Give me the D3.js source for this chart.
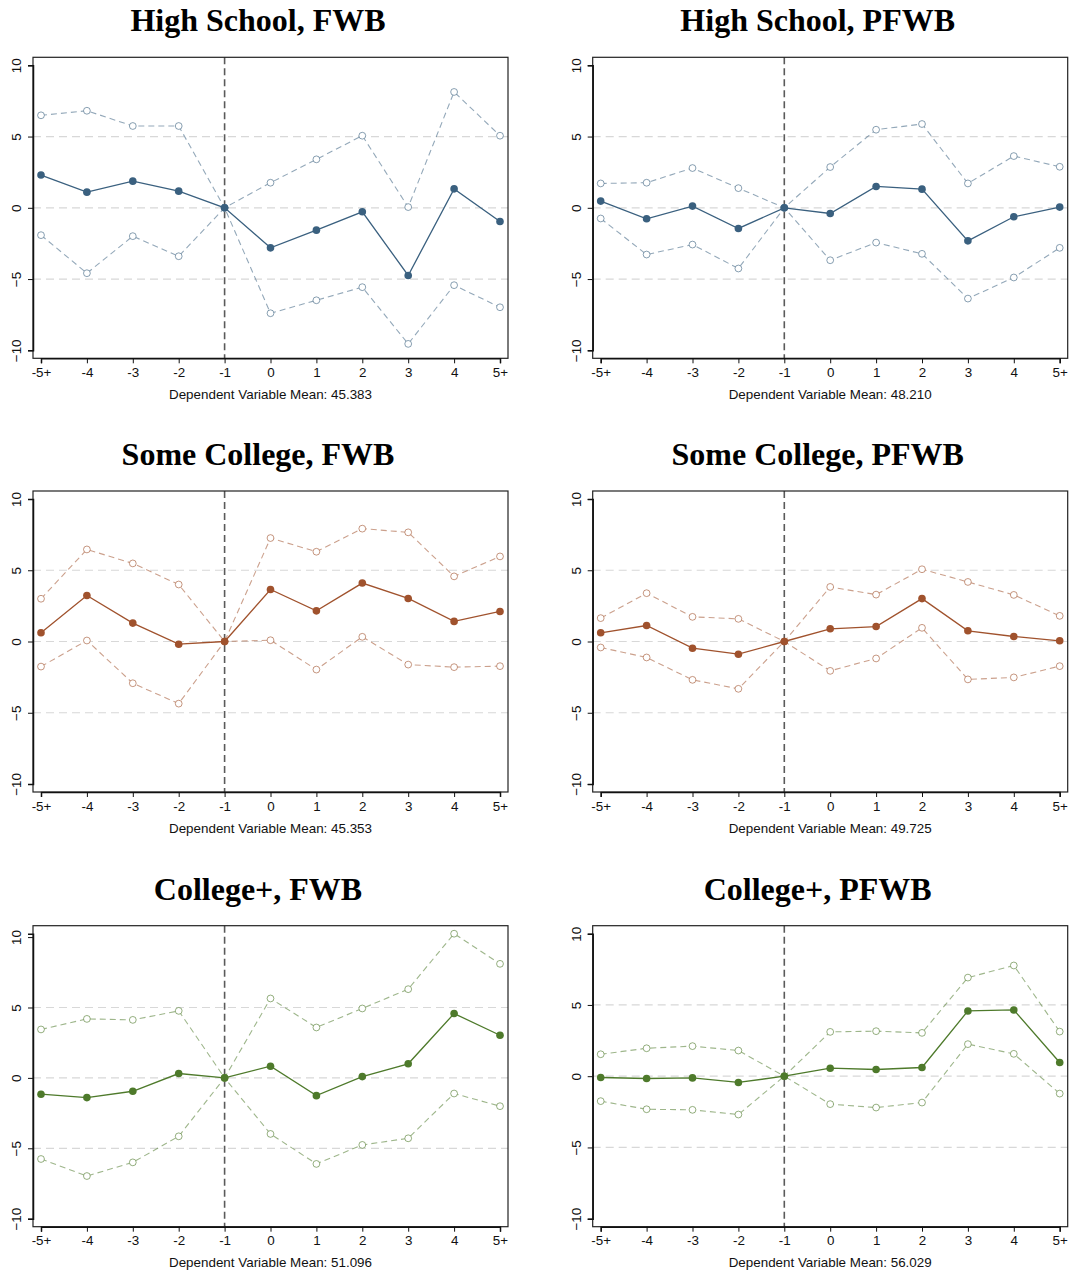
<!DOCTYPE html>
<html><head><meta charset="utf-8">
<script src="https://cdn.jsdelivr.net/npm/d3@7/dist/d3.min.js"></script>
<style>body{margin:0;background:#fff}svg{display:block}</style>
</head><body>
<script>
const xLabels = ["-5+","-4","-3","-2","-1","0","1","2","3","4","5+"];
const yTicks = [-10,-5,0,5,10];
const gridVals = [-5,0,5];
const titles = ["High School, FWB","High School, PFWB","Some College, FWB","Some College, PFWB","College+, FWB","College+, PFWB"];
const depMeans = ["45.383","48.210","45.353","49.725","51.096","56.029"];
const groupColors = ["#3a607f","#3a607f","#a0522d","#a0522d","#4e7a2b","#4e7a2b"];

const hsFwbEst = [2.30,1.10,1.87,1.17,0,-2.81,-1.57,-0.28,-4.75,1.33,-0.96];
const hsFwbHi  = [6.49,6.81,5.74,5.74,0,1.76,3.40,5.06,0.05,8.13,5.06];
const hsFwbLo  = [-1.92,-4.59,-1.99,-3.40,0,-7.40,-6.49,-5.57,-9.55,-5.43,-6.98];

const hsPfwbEst = [0.47,-0.77,0.12,-1.45,0,-0.40,1.50,1.31,-2.32,-0.63,0.05];
const hsPfwbHi  = [1.71,1.76,2.79,1.38,0,2.86,5.48,5.88,1.71,3.63,2.88];
const hsPfwbLo  = [-0.75,-3.28,-2.58,-4.26,0,-3.68,-2.44,-3.23,-6.37,-4.89,-2.81];

const scFwbEst = [0.61,3.23,1.29,-0.19,0,3.65,2.15,4.10,3.02,1.41,2.11];
const scFwbHi  = [3.00,6.46,5.48,4.00,0,7.26,6.30,7.92,7.66,4.57,5.97];
const scFwbLo  = [-1.76,0.07,-2.93,-4.36,0,0.09,-1.97,0.33,-1.62,-1.80,-1.73];

const scPfwbEst = [0.61,1.12,-0.47,-0.89,0,0.89,1.05,3.01,0.75,0.35,0.05];
const scPfwbHi  = [1.64,3.39,1.73,1.59,0,3.83,3.29,5.07,4.18,3.27,1.80];
const scPfwbLo  = [-0.42,-1.12,-2.69,-3.32,0,-2.06,-1.19,0.96,-2.66,-2.52,-1.73];

const cgFwbEst = [-1.16,-1.40,-0.95,0.31,0,0.83,-1.26,0.09,1.00,4.57,3.03];
const cgFwbHi  = [3.44,4.19,4.12,4.76,0,5.64,3.58,4.93,6.30,10.24,8.10];
const cgFwbLo  = [-5.76,-6.97,-6.00,-4.15,0,-3.98,-6.11,-4.76,-4.29,-1.11,-2.01];

const cgPfwbEst = [-0.09,-0.16,-0.12,-0.44,0,0.56,0.47,0.61,4.58,4.65,0.96];
const cgPfwbHi  = [1.54,1.96,2.11,1.80,0,3.11,3.16,3.04,6.92,7.77,3.13];
const cgPfwbLo  = [-1.75,-2.32,-2.36,-2.69,0,-1.96,-2.20,-1.85,2.25,1.57,-1.22];

const panelData = [
  {est: hsFwbEst, hi: hsFwbHi, lo: hsFwbLo},
  {est: hsPfwbEst, hi: hsPfwbHi, lo: hsPfwbLo},
  {est: scFwbEst, hi: scFwbHi, lo: scFwbLo},
  {est: scPfwbEst, hi: scPfwbHi, lo: scPfwbLo},
  {est: cgFwbEst, hi: cgFwbHi, lo: cgFwbLo},
  {est: cgPfwbEst, hi: cgPfwbHi, lo: cgPfwbLo}
];

const W = 1072, H = 1276;
const svg = d3.select("body").append("svg").attr("width", W).attr("height", H);

const colX = [33, 592.7];
const rowY = [57.3, 491, 925.7];
const pw = 475, ph = 301;
const FS = 13.4;

panelData.forEach((pd, i) => {
  const col = i % 2, row = Math.floor(i / 2);
  const x0 = colX[col], y0 = rowY[row];
  const g = svg.append("g").attr("transform", `translate(${x0},${y0})`);
  const color = groupColors[i];
  const yMax = Math.max(10, d3.max(pd.hi));
  const yMin = Math.min(-10, d3.min(pd.lo));
  const x = d3.scalePoint().domain(xLabels).range([8, pw - 8]);
  const y = d3.scaleLinear().domain([yMin, yMax]).range([ph - 8, 8]);

  g.selectAll("line.grid").data(gridVals).enter().append("line")
    .attr("x1", 0).attr("x2", pw).attr("y1", d => y(d)).attr("y2", d => y(d))
    .attr("stroke", "#d8d8d8").attr("stroke-width", 1.2).attr("stroke-dasharray", "8,5");

  g.append("line").attr("x1", x("-1")).attr("x2", x("-1")).attr("y1", 0).attr("y2", ph)
    .attr("stroke", "#5a5a5a").attr("stroke-width", 1.6).attr("stroke-dasharray", "7,4");

  const line = d3.line().x((d, j) => x(xLabels[j])).y(d => y(d));
  [pd.hi, pd.lo].forEach(arr => {
    g.append("path").attr("d", line(arr)).attr("fill", "none")
      .attr("stroke", color).attr("stroke-opacity", 0.55).attr("stroke-width", 1.1)
      .attr("stroke-dasharray", "6,4");
    g.selectAll(null).data(arr).enter().append("circle")
      .attr("cx", (d, j) => x(xLabels[j])).attr("cy", d => y(d)).attr("r", 3.4)
      .attr("fill", "#fff").attr("stroke", color).attr("stroke-opacity", 0.6).attr("stroke-width", 1);
  });
  g.append("path").attr("d", line(pd.est)).attr("fill", "none")
    .attr("stroke", color).attr("stroke-width", 1.3);
  g.selectAll(null).data(pd.est).enter().append("circle")
    .attr("cx", (d, j) => x(xLabels[j])).attr("cy", d => y(d)).attr("r", 3.8)
    .attr("fill", color);

  g.append("rect").attr("x", 0).attr("y", 0).attr("width", pw).attr("height", ph)
    .attr("fill", "none").attr("stroke", "#222").attr("stroke-width", 1.2);

  const ax = g.append("g").attr("transform", `translate(0,${ph})`)
    .call(d3.axisBottom(x).tickSize(5).tickPadding(4));
  ax.attr("font-size", FS).attr("font-family", "Liberation Sans, Arial, sans-serif");
  ax.select(".domain").attr("stroke", "#111").attr("stroke-width", 1.5);
  ax.selectAll(".tick line").attr("stroke", "#111");
  ax.selectAll("text").attr("fill", "#111");

  const ay = g.append("g").call(d3.axisLeft(y).tickValues(yTicks).tickSize(5).tickPadding(3));
  ay.attr("font-size", FS).attr("font-family", "Liberation Sans, Arial, sans-serif");
  ay.select(".domain").attr("stroke", "#111").attr("stroke-width", 1.5);
  ay.selectAll(".tick line").attr("stroke", "#111");
  ay.selectAll("text").attr("fill", "#111")
    .attr("transform", "rotate(-90)").attr("text-anchor", "middle")
    .attr("x", 0).attr("y", -12).attr("dy", 0);

  svg.append("text").attr("x", x0 + pw / 2 - 12.5).attr("y", y0 - 26)
    .attr("text-anchor", "middle").attr("font-family", "Liberation Serif, Times New Roman, serif")
    .attr("font-weight", "bold").attr("font-size", 32).attr("fill", "#000")
    .text(titles[i]);

  svg.append("text").attr("x", x0 + pw / 2).attr("y", y0 + ph + 40.5)
    .attr("text-anchor", "middle").attr("font-family", "Liberation Sans, Arial, sans-serif")
    .attr("font-size", FS).attr("fill", "#111")
    .text("Dependent Variable Mean: " + depMeans[i]);
});
</script>
</body></html>
